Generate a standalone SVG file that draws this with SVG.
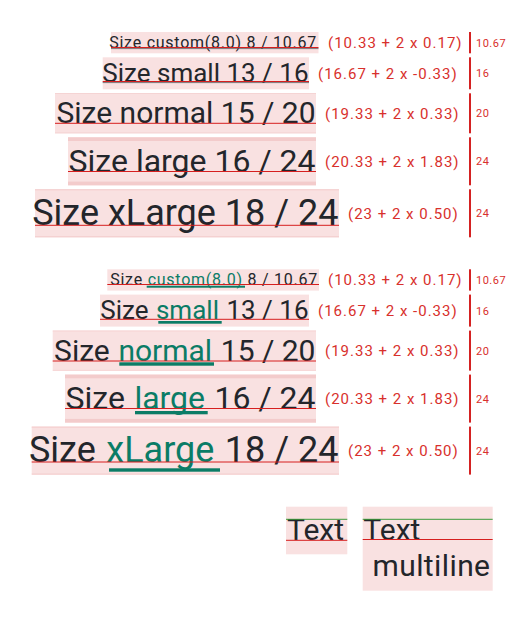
<svg xmlns="http://www.w3.org/2000/svg" width="525" height="623" viewBox="0 0 525 623">
<style>
.bg{fill:#f9e1e1}
.pad{fill:#f3cbcb}
.t{font-family:Roboto,"Liberation Sans",sans-serif;fill:#23262b}
.g{fill:#0b7c66}
.ul{fill:#0b7c66}
.dul{stroke:#55585d;stroke-width:0.8}
.base{stroke:#d61f1f;stroke-width:1}
.cap{stroke:#3b9b3b;stroke-width:1}
.lbl{font-family:Roboto,"Liberation Sans",sans-serif;fill:#d8302c;font-size:15px;letter-spacing:1px}
.lh{font-family:Roboto,"Liberation Sans",sans-serif;fill:#d8302c;font-size:11px;letter-spacing:0.5px}
.bar{fill:#d42222}
</style>
<rect width="525" height="623" fill="#ffffff"/>

<!-- Top section -->
<g id="top-custom">
<rect class="bg" x="111" y="32" width="207.5" height="21.3"/>
<text class="t" x="317" y="47.5" font-size="16" text-anchor="end" letter-spacing="0.75">Size custom(8.0) 8 / 10.67</text>
<line class="dul" x1="111" y1="48.6" x2="318.5" y2="48.6"/>
<line class="base" x1="111" y1="47.5" x2="318.5" y2="47.5"/>
<text class="lbl" x="328" y="48">(10.33 + 2 x 0.17)</text>
<rect class="bar" x="469" y="32" width="2" height="21.3"/>
<text class="lh" x="476" y="46.6">10.67</text>
</g>
<g id="top-small">
<rect class="bg" x="102.7" y="57.3" width="206.3" height="32"/>
<text class="t" x="308.5" y="81.5" font-size="26" text-anchor="end">Size small 13 / 16</text>
<line class="dul" x1="102.7" y1="82.6" x2="309" y2="82.6"/>
<line class="base" x1="102.7" y1="81.5" x2="309" y2="81.5"/>
<text class="lbl" x="318" y="78.6">(16.67 + 2 x -0.33)</text>
<rect class="bar" x="469" y="57.3" width="2" height="32"/>
<text class="lh" x="476" y="77.2">16</text>
</g>
<g id="top-normal">
<rect class="bg" x="55" y="93.3" width="261" height="40"/>
<rect class="pad" x="55" y="93.3" width="261" height="0.7"/>
<rect class="pad" x="55" y="132.6" width="261" height="0.7"/>
<text class="t" x="315.5" y="123.3" font-size="30" text-anchor="end">Size normal 15 / 20</text>
<line class="base" x1="55" y1="123.3" x2="316" y2="123.3"/>
<text class="lbl" x="325" y="118.6">(19.33 + 2 x 0.33)</text>
<rect class="bar" x="469" y="93.3" width="2" height="40"/>
<text class="lh" x="476" y="117.2">20</text>
</g>
<g id="top-large">
<rect class="bg" x="68" y="137.3" width="248" height="48"/>
<rect class="pad" x="68" y="137.3" width="248" height="3.7"/>
<rect class="pad" x="68" y="181.6" width="248" height="3.7"/>
<text class="t" x="315.5" y="171.5" font-size="32" text-anchor="end">Size large 16 / 24</text>
<line class="base" x1="68" y1="171.5" x2="316" y2="171.5"/>
<text class="lbl" x="325" y="166.6">(20.33 + 2 x 1.83)</text>
<rect class="bar" x="469" y="137.3" width="2" height="48"/>
<text class="lh" x="476" y="165.2">24</text>
</g>
<g id="top-xlarge">
<rect class="bg" x="35" y="189.3" width="304" height="48"/>
<rect class="pad" x="35" y="189.3" width="304" height="1"/>
<rect class="pad" x="35" y="236.3" width="304" height="1"/>
<text class="t" x="338.5" y="225.3" font-size="36" text-anchor="end">Size xLarge 18 / 24</text>
<line class="base" x1="35" y1="225.3" x2="339" y2="225.3"/>
<text class="lbl" x="348" y="218.6">(23 + 2 x 0.50)</text>
<rect class="bar" x="469" y="189.3" width="2" height="48"/>
<text class="lh" x="476" y="217.2">24</text>
</g>

<!-- Bottom section -->
<g id="bot-custom">
<rect class="bg" x="107.3" y="269.3" width="211.7" height="21.3"/>
<rect class="ul" x="146.7" y="285.7" width="98.3" height="2"/>
<text class="t" x="318" y="284.5" font-size="16" text-anchor="end" letter-spacing="0.75">Size <tspan class="g">custom(8.0)</tspan> 8 / 10.67</text>
<line class="base" x1="107.3" y1="284.5" x2="319" y2="284.5"/>
<text class="lbl" x="328" y="285.3">(10.33 + 2 x 0.17)</text>
<rect class="bar" x="469" y="269.3" width="2" height="21.3"/>
<text class="lh" x="476" y="283.9">10.67</text>
</g>
<g id="bot-small">
<rect class="bg" x="100" y="294.6" width="209" height="32"/>
<rect class="ul" x="158.3" y="321" width="63.4" height="2.7"/>
<text class="t" x="308.5" y="319.3" font-size="26" text-anchor="end">Size <tspan class="g" dx="1">small</tspan><tspan dx="1"> 13 / 16</tspan></text>
<line class="base" x1="100" y1="319.3" x2="309" y2="319.3"/>
<text class="lbl" x="318" y="315.9">(16.67 + 2 x -0.33)</text>
<rect class="bar" x="469" y="294.6" width="2" height="32"/>
<text class="lh" x="476" y="314.5">16</text>
</g>
<g id="bot-normal">
<rect class="bg" x="52.7" y="330.6" width="263.3" height="40"/>
<rect class="pad" x="52.7" y="330.6" width="263.3" height="0.7"/>
<rect class="pad" x="52.7" y="369.9" width="263.3" height="0.7"/>
<rect class="ul" x="119.3" y="362.3" width="94.7" height="3.4"/>
<text class="t" x="315.5" y="361" font-size="30" text-anchor="end">Size <tspan class="g" dx="1.2">normal</tspan><tspan dx="1.2"> 15 / 20</tspan></text>
<line class="base" x1="52.7" y1="361" x2="316" y2="361"/>
<text class="lbl" x="325" y="355.9">(19.33 + 2 x 0.33)</text>
<rect class="bar" x="469" y="330.6" width="2" height="40"/>
<text class="lh" x="476" y="354.5">20</text>
</g>
<g id="bot-large">
<rect class="bg" x="65" y="374.6" width="251" height="48"/>
<rect class="pad" x="65" y="374.6" width="251" height="3.7"/>
<rect class="pad" x="65" y="418.9" width="251" height="3.7"/>
<rect class="ul" x="135" y="411" width="72.7" height="3.3"/>
<text class="t" x="315.5" y="408.5" font-size="32" text-anchor="end">Size <tspan class="g" dx="1.5">large</tspan><tspan dx="1.5"> 16 / 24</tspan></text>
<line class="base" x1="65" y1="408.5" x2="316" y2="408.5"/>
<text class="lbl" x="325" y="403.9">(20.33 + 2 x 1.83)</text>
<rect class="bar" x="469" y="374.6" width="2" height="48"/>
<text class="lh" x="476" y="402.5">24</text>
</g>
<g id="bot-xlarge">
<rect class="bg" x="31.7" y="426.6" width="307.3" height="48"/>
<rect class="pad" x="31.7" y="426.6" width="307.3" height="1"/>
<rect class="pad" x="31.7" y="473.6" width="307.3" height="1"/>
<rect class="ul" x="109" y="468.3" width="111" height="3.4"/>
<text class="t" x="338.5" y="462" font-size="36" text-anchor="end">Size <tspan class="g" dx="1.6">xLarge</tspan><tspan dx="1.6"> 18 / 24</tspan></text>
<line class="base" x1="31.7" y1="462" x2="339" y2="462"/>
<text class="lbl" x="348" y="455.9">(23 + 2 x 0.50)</text>
<rect class="bar" x="469" y="426.6" width="2" height="48"/>
<text class="lh" x="476" y="454.5">24</text>
</g>

<!-- Text boxes -->
<g id="text-single">
<rect class="bg" x="286" y="506.7" width="61.3" height="47.6"/>
<text class="t" x="287" y="540.3" font-size="30">Text</text>
<line class="cap" x1="286" y1="519.3" x2="347.3" y2="519.3"/>
<line class="base" x1="286" y1="540.3" x2="347.3" y2="540.3"/>
</g>
<g id="text-multi">
<rect class="bg" x="362.7" y="506.7" width="130" height="84"/>
<text class="t" font-size="30"><tspan x="363.3" y="539.5">Text</tspan><tspan x="372.5" y="576" letter-spacing="0.4">multiline</tspan></text>
<line class="cap" x1="362.7" y1="519.3" x2="492.7" y2="519.3"/>
<line class="base" x1="362.7" y1="539.5" x2="492.7" y2="539.5"/>
</g>
</svg>
